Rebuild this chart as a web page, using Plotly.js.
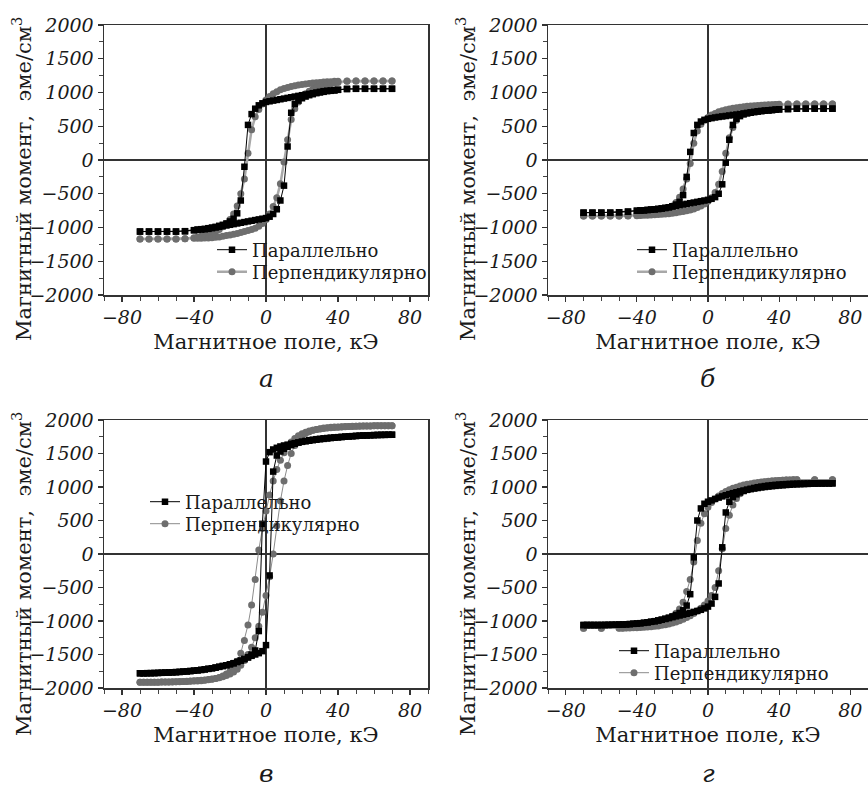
<!DOCTYPE html>
<html>
<head>
<meta charset="utf-8">
<script src="https://cdn.plot.ly/plotly-3.0.1.min.js"></script>
<style>html,body{margin:0;padding:0;background:#fff;}#chart{width:868px;height:790px;}</style>
</head>
<body>
<div id="chart"></div>
<script>
// ---------------- DATA ----------------
// Field sequences (kOe)
const H_ab_desc = [70,65,60,55,50,45,40,38,36,34,32,30,28,26,24,22,20,18,16,14,12,10,8,6,4,2,0,-2,-4,-6,-8,-10,-12,-14,-16,-18,-20,-22,-24,-26,-28,-30,-32,-34,-36,-38,-40,-45,-50,-55,-60,-65,-70];
const H_ab_asc = [-70,-65,-60,-55,-50,-45,-40,-38,-36,-34,-32,-30,-28,-26,-24,-22,-20,-18,-16,-14,-12,-10,-8,-6,-4,-2,0,2,4,6,8,10,12,14,16,18,20,22,24,26,28,30,32,34,36,38,40,45,50,55,60,65,70];
const H_full_desc = [70,68,66,64,62,60,58,56,54,52,50,48,46,44,42,40,38,36,34,32,30,28,26,24,22,20,18,16,14,12,10,8,6,4,2,0,-2,-4,-6,-8,-10,-12,-14,-16,-18,-20,-22,-24,-26,-28,-30,-32,-34,-36,-38,-40,-42,-44,-46,-48,-50,-52,-54,-56,-58,-60,-62,-64,-66,-68,-70];
const H_full_asc = [-70,-68,-66,-64,-62,-60,-58,-56,-54,-52,-50,-48,-46,-44,-42,-40,-38,-36,-34,-32,-30,-28,-26,-24,-22,-20,-18,-16,-14,-12,-10,-8,-6,-4,-2,0,2,4,6,8,10,12,14,16,18,20,22,24,26,28,30,32,34,36,38,40,42,44,46,48,50,52,54,56,58,60,62,64,66,68,70];
const H_g_desc = [70,60,50,48,46,44,42,40,38,36,34,32,30,28,26,24,22,20,18,16,14,12,10,8,6,4,2,0,-2,-4,-6,-8,-10,-12,-14,-16,-18,-20,-22,-24,-26,-28,-30,-32,-34,-36,-38,-40,-42,-44,-46,-48,-50,-60,-70];
const H_g_asc = [-70,-60,-50,-48,-46,-44,-42,-40,-38,-36,-34,-32,-30,-28,-26,-24,-22,-20,-18,-16,-14,-12,-10,-8,-6,-4,-2,0,2,4,6,8,10,12,14,16,18,20,22,24,26,28,30,32,34,36,38,40,42,44,46,48,50,60,70];

// Panel а
const Ma_par_desc = [1055,1055,1055,1055,1055,1055,
 1040,1035,1030,1025,1020,1010,1000,990,980,970,960,950,940,930,920,910,900,890,880,870,860,
 840,810,760,680,520,-100,-600,-790,-870,-910,-940,-960,-975,-990,-1000,-1010,-1020,-1025,-1030,-1040,
 -1055,-1060,-1060,-1060,-1060,-1060];
const Ma_par_asc = [-1060,-1060,-1060,-1060,-1060,-1055,
 -1040,-1035,-1030,-1025,-1020,-1010,-1000,-990,-980,-970,-960,-950,-940,-930,-920,-910,-900,-890,-880,-870,-860,
 -840,-800,-730,-600,-380,200,700,830,880,915,940,960,975,990,1000,1010,1020,1025,1030,1040,
 1050,1055,1055,1055,1055,1055];
const Ma_perp_desc = [1170,1170,1170,1170,1170,1170,
 1165,1165,1160,1160,1155,1150,1145,1140,1135,1125,1120,1110,1100,1090,1075,1060,1040,1010,980,940,890,
 830,750,640,450,100,-280,-500,-680,-800,-880,-940,-990,-1030,-1060,-1080,-1100,-1115,-1130,-1140,-1150,
 -1165,-1170,-1170,-1170,-1170,-1170];
const Ma_perp_asc = [-1170,-1170,-1170,-1170,-1170,-1165,
 -1160,-1160,-1160,-1155,-1155,-1150,-1145,-1140,-1130,-1120,-1110,-1100,-1090,-1075,-1060,-1045,-1030,-1010,-980,-940,-880,
 -800,-690,-560,-350,-30,300,600,760,860,930,980,1020,1050,1070,1090,1105,1120,1130,1140,1150,
 1165,1170,1170,1170,1170,1170];

// Panel б
const Mb_par_desc = [760,760,760,760,760,755,
 750,745,740,735,730,725,720,712,705,698,690,682,675,668,660,652,645,638,630,620,610,
 595,570,520,400,120,-250,-520,-620,-660,-685,-700,-710,-718,-725,-730,-735,-740,-745,-748,-752,
 -765,-775,-780,-780,-780,-780];
const Mb_par_asc = [-780,-780,-780,-780,-775,-765,
 -752,-748,-745,-740,-735,-730,-725,-718,-710,-700,-690,-680,-670,-660,-650,-640,-630,-620,-610,-600,-590,
 -575,-550,-500,-360,-40,300,520,610,650,675,690,700,710,718,725,730,735,740,745,750,
 755,760,760,760,760,760];
const Mb_perp_desc = [830,830,830,830,830,828,
 825,822,820,818,815,812,808,805,800,795,790,783,775,765,755,745,730,715,690,665,630,
 590,530,430,250,-50,-280,-430,-550,-630,-680,-715,-740,-760,-775,-785,-795,-802,-808,-813,-818,
 -825,-830,-830,-830,-830,-830];
const Mb_perp_asc = [-830,-830,-830,-830,-830,-828,
 -825,-822,-820,-818,-815,-812,-808,-805,-800,-795,-788,-780,-772,-762,-752,-740,-725,-705,-680,-650,-610,
 -560,-480,-360,-170,100,330,480,590,660,705,735,758,775,788,798,805,810,815,818,822,
 826,830,830,830,830,830];

// Panel в
const Mc_par_desc = [1780,1780,1779,1778,1777,1775,1773,1770,1768,1765,1762,1758,1754,1750,1745,1740,1735,1730,1724,1718,1712,1705,1698,1690,1682,1674,1665,1655,1645,1632,1620,1605,1585,1560,1520,
 1380,
 450,-1150,-1440,-1500,-1540,-1565,-1590,-1610,-1630,-1645,-1660,-1672,-1684,-1695,-1705,-1714,-1722,-1730,-1736,-1742,-1747,-1752,-1756,-1760,-1763,-1766,-1769,-1771,-1773,-1775,-1777,-1778,-1779,-1780,-1780];
const Mc_par_asc = [-1780,-1780,-1779,-1778,-1777,-1775,-1773,-1771,-1769,-1766,-1763,-1760,-1756,-1752,-1747,-1742,-1736,-1730,-1722,-1714,-1705,-1695,-1684,-1672,-1660,-1645,-1630,-1612,-1592,-1570,-1545,-1520,-1500,-1480,-1450,
 -1360,
 -320,1230,1470,1530,1570,1600,1625,1645,1662,1676,1688,1698,1707,1714,1720,1726,1731,1736,1740,1744,1748,1752,1756,1759,1762,1765,1768,1770,1772,1774,1776,1777,1778,1779,1780];
const Mc_perp_desc = [1915,1915,1915,1914,1914,1913,1912,1911,1910,1908,1906,1904,1902,1899,1896,1893,1889,1885,1880,1874,1867,1858,1848,1835,1818,1795,1765,1725,1670,1600,1510,1400,1260,1090,880,
 640,
 380,60,-380,-760,-1060,-1290,-1480,-1600,-1690,-1750,-1790,-1820,-1842,-1858,-1870,-1878,-1885,-1890,-1894,-1897,-1900,-1902,-1904,-1906,-1908,-1909,-1910,-1911,-1912,-1913,-1914,-1914,-1915,-1915,-1915];
const Mc_perp_asc = [-1915,-1915,-1915,-1914,-1914,-1913,-1912,-1911,-1910,-1908,-1906,-1904,-1902,-1899,-1896,-1893,-1889,-1885,-1880,-1874,-1866,-1857,-1846,-1832,-1815,-1790,-1760,-1720,-1660,-1590,-1500,-1390,-1250,-1080,-870,
 -620,
 -340,0,420,790,1090,1320,1500,1620,1700,1760,1798,1826,1846,1860,1871,1879,1885,1890,1894,1897,1900,1902,1904,1906,1908,1909,1910,1911,1912,1913,1914,1914,1915,1915,1915];

// Panel г
const Md_par_desc = [1055,1055,1054,1053,1052,1050,1048,1046,1044,1042,1040,1037,1034,1030,1026,1022,1017,1012,1006,1000,993,985,977,968,958,947,935,922,908,893,877,860,842,822,800,
 780,
 750,680,500,-50,-600,-770,-840,-880,-910,-932,-950,-966,-980,-992,-1003,-1012,-1020,-1027,-1033,-1038,-1042,-1046,-1049,-1052,-1054,-1056,-1057,-1058,-1059,-1060,-1060,-1060,-1060,-1060,-1060];
const Md_par_asc = [-1060,-1060,-1060,-1060,-1060,-1060,-1059,-1058,-1057,-1056,-1054,-1052,-1049,-1046,-1042,-1038,-1033,-1027,-1020,-1012,-1003,-993,-982,-970,-957,-943,-930,-918,-905,-892,-878,-864,-850,-833,-812,
 -785,
 -740,-640,-440,100,620,780,850,890,918,940,958,973,986,997,1006,1014,1021,1027,1032,1036,1040,1043,1046,1048,1050,1051,1052,1053,1054,1055,1055,1055,1055,1055,1055];
const Md_perp_desc = [1110,1110,
 1110,1108,1106,1104,1101,1098,1094,1090,1085,1080,1074,1067,1059,1050,1040,1028,1014,998,980,958,932,902,866,822,770,
 700,
 600,460,200,-120,-380,-560,-720,-820,-885,-930,-965,-992,-1015,-1033,-1048,-1060,-1070,-1078,-1085,-1090,-1094,-1097,-1100,-1103,-1105,
 -1110,-1110];
const Md_perp_asc = [-1110,-1110,
 -1108,-1107,-1106,-1104,-1102,-1100,-1097,-1094,-1090,-1085,-1080,-1073,-1065,-1055,-1043,-1030,-1014,-995,-973,-948,-920,-888,-852,-810,-760,
 -700,
 -620,-500,-250,80,380,580,730,830,900,950,985,1012,1034,1050,1063,1073,1081,1088,1093,1097,1100,1103,1105,1107,1108,
 1110,1110];

// Text
const SERIES_NAMES = ['Параллельно', 'Перпендикулярно'];
const PANEL_LABELS = ['а', 'б', 'в', 'г'];
const X_TITLE = 'Магнитное поле, кЭ';
const Y_TITLE = 'Магнитный момент,\u00A0\u00A0эме/см<sup>3</sup>';
const X_TICKS = [-80, -40, 0, 40, 80];
const Y_TICKS = [-2000, -1500, -1000, -500, 0, 500, 1000, 1500, 2000];

// ---------------- STYLE / LAYOUT ----------------
const FONT = 'DejaVu Serif';
const INK = '#1a1a1a';
const W = 868, H = 790;
const px = v => v / W;
const py = v => 1 - v / H;
const italicLabel = v => '<i>' + String(v).replace('-', '\u2212') + '</i>';

const dom = {
  a: {x: [px(104), px(428)], y: [py(295), py(25)]},
  b: {x: [px(548), 1], y: [py(295), py(25)]},
  c: {x: [px(104), px(428)], y: [py(688), py(420)]},
  d: {x: [px(548), 1], y: [py(688), py(420)]}
};

function xaxis(d, anchor) {
  return {
    domain: d, anchor: anchor, range: [-90, 90],
    tickmode: 'array', tickvals: X_TICKS, ticktext: X_TICKS.map(italicLabel),
    ticks: 'outside', ticklen: 5, tickwidth: 1.2, tickcolor: '#333',
    minor: {dtick: 10, tick0: 0, ticks: 'outside', ticklen: 4, tickwidth: 1, tickcolor: '#444'},
    showline: true, linecolor: '#333', linewidth: 1.5, mirror: true,
    zeroline: true, zerolinecolor: '#333', zerolinewidth: 1.2, showgrid: false,
    tickfont: {family: FONT, size: 19, color: INK},
    title: {text: X_TITLE, font: {family: FONT, size: 21, color: INK}, standoff: 7},
    fixedrange: true
  };
}
function yaxis(d, anchor) {
  return {
    domain: d, anchor: anchor, range: [-2000, 2000],
    tickmode: 'array', tickvals: Y_TICKS, ticktext: Y_TICKS.map(italicLabel),
    ticks: 'outside', ticklen: 5, tickwidth: 1.2, tickcolor: '#333',
    minor: {dtick: 250, tick0: 0, ticks: 'outside', ticklen: 4, tickwidth: 1, tickcolor: '#444'},
    showline: true, linecolor: '#333', linewidth: 1.5, mirror: true,
    zeroline: true, zerolinecolor: '#333', zerolinewidth: 1.2, showgrid: false,
    tickfont: {family: FONT, size: 19, color: INK},
    fixedrange: true
  };
}

const PAR_COLOR = '#000000';
const PERP_MARK = '#6e6e6e';
const PERP_LINE_THICK = '#a8a8a8';
const PERP_LINE_THIN = '#8c8c8c';

function series(xs, ys, kind, xa, ya, thick, legendId) {
  const par = kind === 0;
  return {
    type: 'scatter', mode: 'lines+markers',
    x: xs, y: ys, xaxis: xa, yaxis: ya,
    name: SERIES_NAMES[kind], legend: legendId,
    line: par ? {color: PAR_COLOR, width: 1}
              : {color: thick ? PERP_LINE_THICK : PERP_LINE_THIN, width: thick ? 2.5 : 1},
    marker: {symbol: par ? 'square' : 'circle', size: par ? 6.5 : 7, color: par ? PAR_COLOR : PERP_MARK, line: {width: 0}},
    hoverinfo: 'skip'
  };
}

const data = [
  series(H_ab_desc.concat(H_ab_asc), Ma_perp_desc.concat(Ma_perp_asc), 1, 'x', 'y', true, 'legend2'),
  series(H_ab_desc.concat(H_ab_asc), Ma_par_desc.concat(Ma_par_asc), 0, 'x', 'y', false, 'legend'),
  series(H_ab_desc.concat(H_ab_asc), Mb_perp_desc.concat(Mb_perp_asc), 1, 'x2', 'y2', true, 'legend4'),
  series(H_ab_desc.concat(H_ab_asc), Mb_par_desc.concat(Mb_par_asc), 0, 'x2', 'y2', false, 'legend3'),
  series(H_full_desc.concat(H_full_asc), Mc_perp_desc.concat(Mc_perp_asc), 1, 'x3', 'y3', false, 'legend6'),
  series(H_full_desc.concat(H_full_asc), Mc_par_desc.concat(Mc_par_asc), 0, 'x3', 'y3', false, 'legend5'),
  series(H_g_desc.concat(H_g_asc), Md_perp_desc.concat(Md_perp_asc), 1, 'x4', 'y4', false, 'legend8'),
  series(H_full_desc.concat(H_full_asc), Md_par_desc.concat(Md_par_asc), 0, 'x4', 'y4', false, 'legend7')
];

function leg(textX, textY) {
  return {
    x: px(textX - 40), y: py(textY), xanchor: 'left', yanchor: 'middle',
    bgcolor: 'rgba(0,0,0,0)', borderwidth: 0, itemwidth: 30,
    font: {family: FONT, size: 18, color: INK}
  };
}

function ytitle(cx, cy) {
  return {text: Y_TITLE, xref: 'paper', yref: 'paper', x: px(cx), y: py(cy),
    xanchor: 'center', yanchor: 'middle', textangle: -90, showarrow: false,
    font: {family: FONT, size: 21, color: INK}};
}
function plabel(i, cx, cy) {
  return {text: '<i>' + PANEL_LABELS[i] + '</i>', xref: 'paper', yref: 'paper', x: px(cx), y: py(cy),
    xanchor: 'center', yanchor: 'middle', showarrow: false,
    font: {family: FONT, size: 25, color: INK}};
}

const layout = {
  width: W, height: H,
  margin: {l: 0, r: 0, t: 0, b: 0, pad: 0},
  paper_bgcolor: '#ffffff', plot_bgcolor: '#ffffff',
  font: {family: FONT, color: INK},
  showlegend: true, hovermode: false,
  xaxis: xaxis(dom.a.x, 'y'), yaxis: yaxis(dom.a.y, 'x'),
  xaxis2: xaxis(dom.b.x, 'y2'), yaxis2: yaxis(dom.b.y, 'x2'),
  xaxis3: xaxis(dom.c.x, 'y3'), yaxis3: yaxis(dom.c.y, 'x3'),
  xaxis4: xaxis(dom.d.x, 'y4'), yaxis4: yaxis(dom.d.y, 'x4'),
  legend: leg(252, 250), legend2: leg(252, 272),
  legend3: leg(672, 250), legend4: leg(672, 272),
  legend5: leg(185, 502), legend6: leg(185, 524),
  legend7: leg(654, 651), legend8: leg(654, 673),
  annotations: [
    ytitle(22, 179), ytitle(466, 179), ytitle(22, 574), ytitle(466, 574),
    plabel(0, 266, 378), plabel(1, 708, 378), plabel(2, 266, 773), plabel(3, 708, 773)
  ]
};

Plotly.newPlot('chart', data, layout, {staticPlot: true, displayModeBar: false});
</script>
</body>
</html>
